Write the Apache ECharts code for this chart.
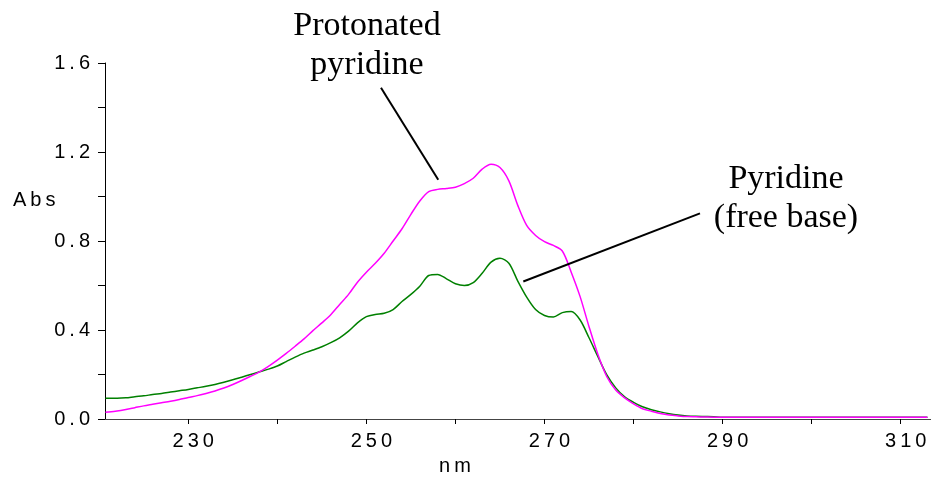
<!DOCTYPE html>
<html><head><meta charset="utf-8">
<script src="https://cdn.jsdelivr.net/npm/echarts@6/dist/echarts.min.js"></script>
<style>html,body{margin:0;padding:0;background:#fff}#c{width:931px;height:477px}</style>
</head><body><div id="c"></div>
<script>
// wavelength grid (nm)
const wavelengths = [220.7, 221,222,223,224,225,226,227,228,229,230,231,232,233,234,235,236,237,238,239,240,
  241,242,243,244,245,246,247,248,249,250,251,252,253,254,255,256,257,258,259,260,
  261,262,263,264,265,266,267,268,269,270,271,272,273,274,275,276,277,278,279,280,
  281,282,283,284,285,286,287,288,289,290,291,292,293,294,295,296,297,298,299,300,
  301,302,303,304,305,306,307,308,309,310,311,312,313];
// Protonated pyridine (magenta)
const protonated = [0.030, 0.031,0.036,0.043,0.051,0.059,0.066,0.073,0.080,0.088,0.097,0.105,0.115,0.126,0.139,0.155,0.173,0.192,0.212,0.237,0.265,
  0.295,0.327,0.360,0.397,0.432,0.469,0.515,0.560,0.615,0.660,0.700,0.745,0.800,0.855,0.920,0.980,1.022,1.032,1.036,1.042,
  1.058,1.082,1.123,1.145,1.130,1.070,0.960,0.870,0.825,0.797,0.780,0.755,0.660,0.550,0.415,0.290,0.190,0.130,0.095,0.068,
  0.046,0.035,0.025,0.018,0.014,0.011,0.010,0.009,0.008,0.008,0.008,0.008,0.008,0.008,0.008,0.008,0.008,0.008,0.008,0.008,
  0.008,0.008,0.008,0.008,0.008,0.008,0.008,0.008,0.008,0.008,0.008,0.008,0.008];
// Pyridine free base (green)
const freeBase = [0.093, 0.093,0.093,0.095,0.100,0.104,0.110,0.115,0.121,0.127,0.133,0.140,0.147,0.155,0.165,0.176,0.188,0.200,0.212,0.224,0.238,
  0.258,0.278,0.296,0.310,0.325,0.343,0.365,0.395,0.432,0.460,0.470,0.475,0.492,0.528,0.560,0.597,0.645,0.650,0.630,0.608,
  0.600,0.613,0.655,0.705,0.722,0.700,0.620,0.548,0.492,0.465,0.458,0.478,0.483,0.445,0.365,0.280,0.198,0.140,0.100,0.075,
  0.055,0.042,0.032,0.024,0.018,0.014,0.012,0.011,0.010,0.008,0.008,0.008,0.008,0.008,0.008,0.008,0.008,0.008,0.008,0.008,
  0.008,0.008,0.008,0.008,0.008,0.008,0.008,0.008,0.008,0.008,0.008,0.008,0.008];

const xTickLabels = [230, 250, 270, 290, 310];
const xTickMarks = [230, 240, 250, 260, 270, 280, 290, 300, 310];
const yTickLabels = [0, 0.4, 0.8, 1.2, 1.6];

// leader lines for the annotations, in data units [nm, Abs]
const leaderProtonated = [[251.64, 1.489], [258.07, 1.075]];
const leaderFreeBase = [[287.46, 0.924], [267.62, 0.618]];

const spaced = s => String(s).split('').join('\u2009');

const chart = echarts.init(document.getElementById('c'), null, {renderer: 'canvas'});
const labelFont = {fontFamily: 'Liberation Sans, Arial, sans-serif', fontSize: 20, color: '#000'};
const serif = 'Liberation Serif, Times New Roman, serif';

chart.setOption({
  animation: false,
  backgroundColor: '#fff',
  grid: {left: 105, right: 0, top: 63, bottom: 58, containLabel: false},
  xAxis: {
    type: 'value', min: 220.65, max: 313.4,
    axisLine: {show: true, onZero: false, lineStyle: {color: '#444', width: 1}},
    axisTick: {show: true, inside: false, length: 5, customValues: xTickMarks, lineStyle: {color: '#000'}},
    axisLabel: Object.assign({customValues: xTickLabels, margin: 12, padding: [0, 0, 0, 10],
      formatter: v => spaced(v)}, labelFont),
    splitLine: {show: false}
  },
  yAxis: {
    type: 'value', min: 0, max: 1.6, interval: 0.4,
    axisLine: {show: true, onZero: false, lineStyle: {color: '#000', width: 1}},
    axisTick: {show: true, inside: false, length: 7, lineStyle: {color: '#000'}},
    minorTick: {show: true, splitNumber: 2, length: 7, lineStyle: {color: '#000'}},
    axisLabel: Object.assign({margin: 15, formatter: v => spaced(v.toFixed(1))}, labelFont),
    splitLine: {show: false}
  },
  series: [
    {
      name: 'Pyridine (free base)', type: 'line', showSymbol: false, symbol: 'none', smooth: 0.3,
      lineStyle: {color: '#008000', width: 1.5},
      data: wavelengths.map((w, i) => [w, freeBase[i]]),
      markLine: {silent: true, symbol: 'none', label: {show: false},
        lineStyle: {color: '#000', width: 2, type: 'solid'},
        data: [[{coord: leaderFreeBase[0]}, {coord: leaderFreeBase[1]}]]}
    },
    {
      name: 'Protonated pyridine', type: 'line', showSymbol: false, symbol: 'none', smooth: 0.3,
      lineStyle: {color: '#ff00ff', width: 1.5},
      data: wavelengths.map((w, i) => [w, protonated[i]]),
      markLine: {silent: true, symbol: 'none', label: {show: false},
        lineStyle: {color: '#000', width: 2, type: 'solid'},
        data: [[{coord: leaderProtonated[0]}, {coord: leaderProtonated[1]}]]}
    }
  ],
  graphic: [
    {type: 'text', style: {text: 'Protonated\npyridine', x: 367, y: 46, align: 'center', verticalAlign: 'middle',
      font: '34px ' + serif, lineHeight: 39, fill: '#000'}},
    {type: 'text', style: {text: 'Pyridine\n(free base)', x: 786, y: 199, align: 'center', verticalAlign: 'middle',
      font: '34px ' + serif, lineHeight: 39, fill: '#000'}},
    {type: 'text', style: {text: spaced('Abs'), x: 13, y: 200, align: 'left', verticalAlign: 'middle',
      font: '20px Liberation Sans, Arial, sans-serif', fill: '#000'}},
    {type: 'text', style: {text: spaced('nm'), x: 455, y: 466, align: 'center', verticalAlign: 'middle',
      font: '20px Liberation Sans, Arial, sans-serif', fill: '#000'}}
  ]
});
</script>
</body></html>
